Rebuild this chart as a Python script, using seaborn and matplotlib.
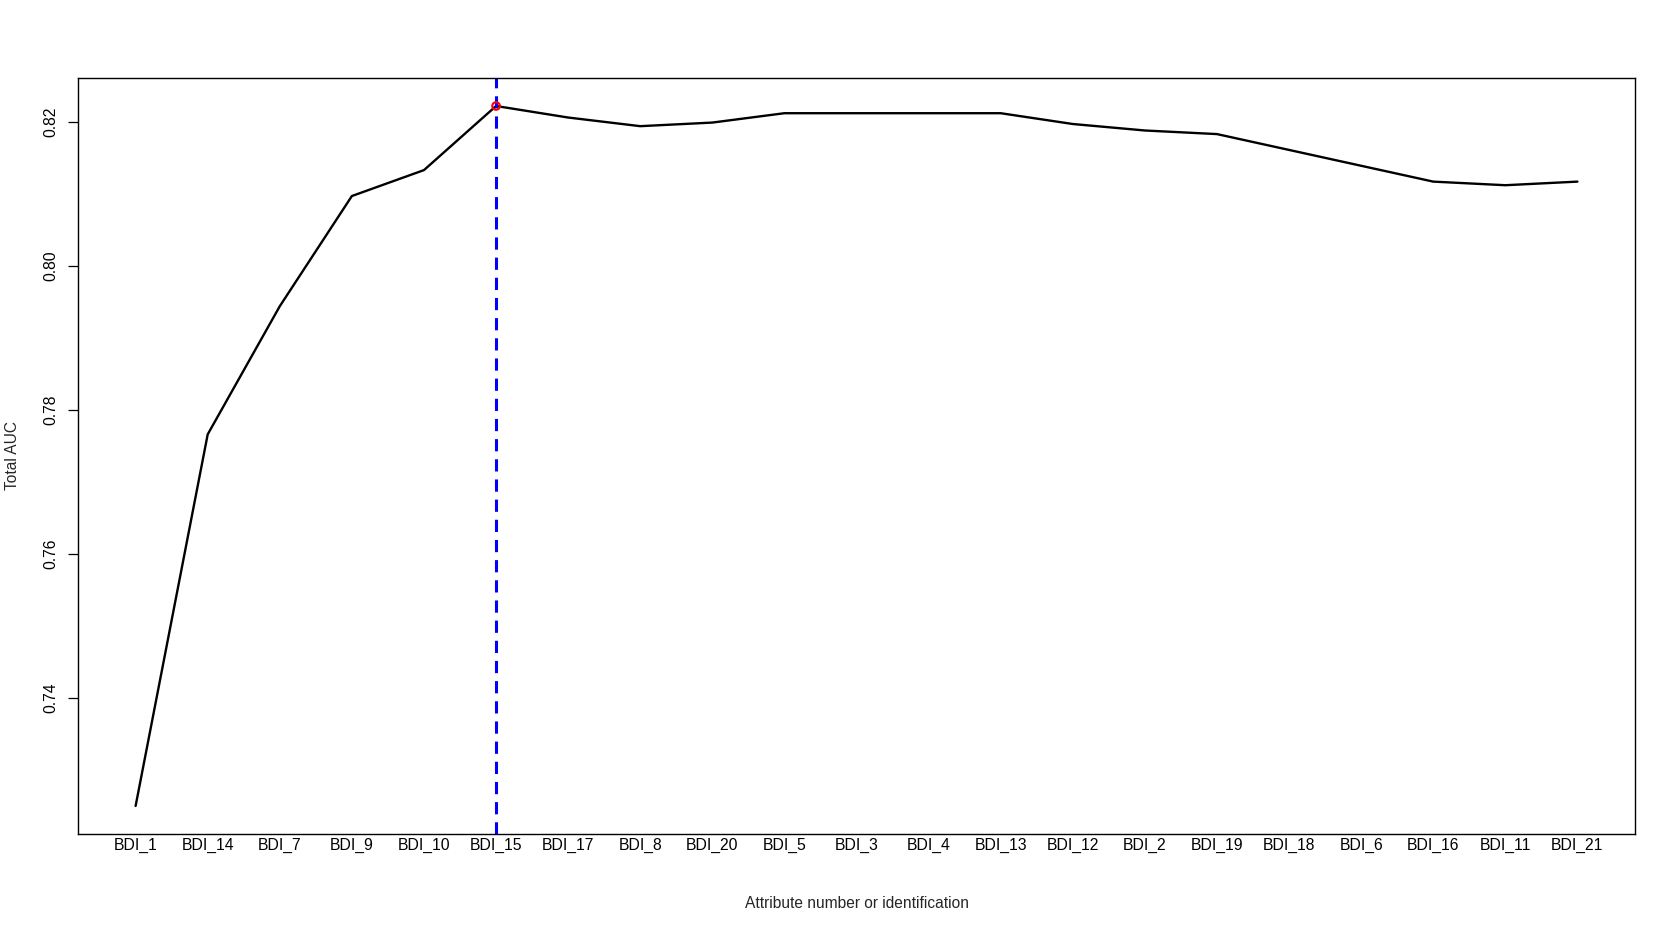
import numpy as np
import pandas as pd
import matplotlib
matplotlib.use("Agg")
import matplotlib.pyplot as plt
import seaborn as sns

# attribute order (forward selection) and total AUC after adding each one
attributes = ["BDI_1", "BDI_14", "BDI_7", "BDI_9", "BDI_10", "BDI_15", "BDI_17",
              "BDI_8", "BDI_20", "BDI_5", "BDI_3", "BDI_4", "BDI_13", "BDI_12",
              "BDI_2", "BDI_19", "BDI_18", "BDI_6", "BDI_16", "BDI_11", "BDI_21"]
total_auc = [0.7250, 0.7766, 0.7944, 0.8097, 0.8133, 0.8222, 0.8206,
             0.8194, 0.8199, 0.8212, 0.8212, 0.8212, 0.8212, 0.8197,
             0.8188, 0.8183, 0.8161, 0.8139, 0.8117, 0.8112, 0.8117]
yticks = [0.74, 0.76, 0.78, 0.80, 0.82]

sns.set_theme(style="white")
plt.rcParams['font.family'] = ['Liberation Sans', 'DejaVu Sans']

df = pd.DataFrame({"pos": np.arange(1, len(attributes) + 1),
                   "attr": attributes, "auc": total_auc})
best = df.loc[df["auc"].idxmax()]

fig = plt.figure(figsize=(16.76, 9.32), dpi=100)
ax = fig.add_axes([0.0465, 0.1052, 0.9291, 0.8111])

sns.lineplot(data=df, x="pos", y="auc", color="black", linewidth=1.7, ax=ax)
ax.axvline(best["pos"], color="blue", linewidth=2.2, linestyle=(0, (4, 2.6)))
sns.scatterplot(x=[best["pos"]], y=[best["auc"]], marker="o", s=30,
                facecolor="none", edgecolor="red", linewidth=1.5, ax=ax, zorder=5)

# R style 4% padding
n = len(attributes)
ax.set_xlim(1 - 0.04 * (n - 1), n + 0.04 * (n - 1))
lo, hi = min(total_auc), max(total_auc)
ax.set_ylim(lo - 0.04 * (hi - lo), hi + 0.04 * (hi - lo))

ax.set_xticks(df["pos"])
ax.set_xticklabels(attributes)
ax.set_yticks(yticks)
ax.set_yticklabels([f"{v:.2f}" for v in yticks], rotation=90, va="center")
ax.tick_params(axis="x", length=0, pad=3, labelsize=11.3, colors="black")
ax.tick_params(axis="y", length=7, width=0.9, direction="out", pad=7,
               labelsize=11.3, colors="black", left=True)

for sp in ax.spines.values():
    sp.set_color("black")
    sp.set_linewidth(1.0)

ax.set_xlabel("Attribute number or identification", fontsize=11.2, va="center")
ax.set_ylabel("Total AUC", fontsize=11.2, va="center")
ax.xaxis.set_label_coords(0.5, -0.0925)
ax.yaxis.set_label_coords(-0.0419, 0.5)

fig.savefig("out.png", dpi=100, facecolor="white")
